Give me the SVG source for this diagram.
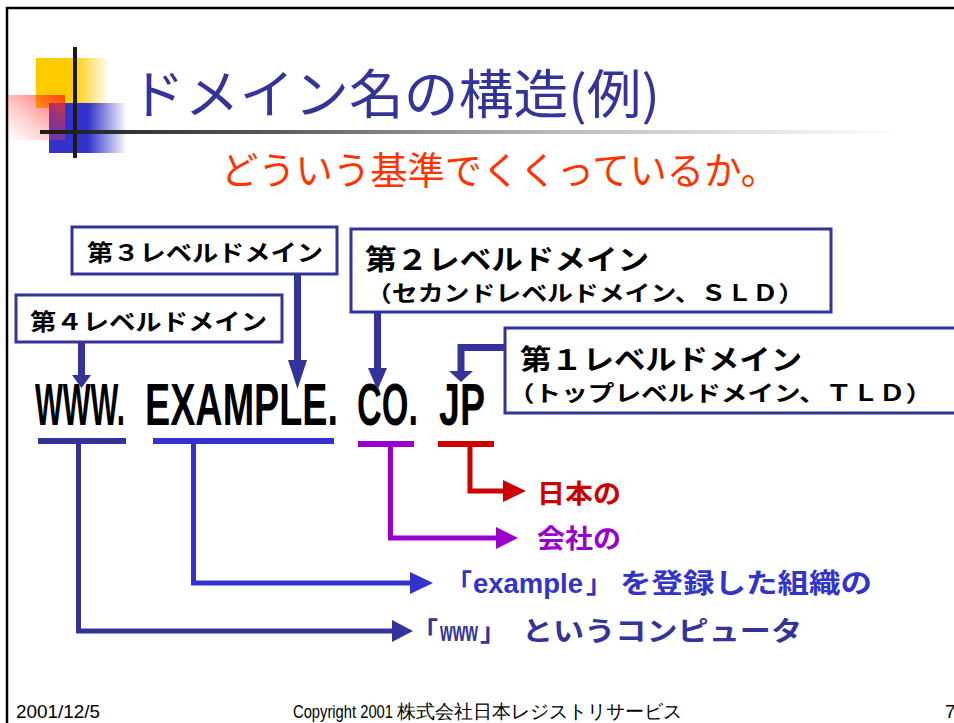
<svg xmlns="http://www.w3.org/2000/svg" width="954" height="723" viewBox="0 0 954 723">
<defs>
<style>
.jp{font-family:"Noto Sans CJK JP","Noto Sans",sans-serif}
.box{fill:#fff;stroke:#333399;stroke-width:3}
.lbl{font-weight:bold;fill:#000}
.dom{font-family:"Liberation Sans",Arial,sans-serif;font-weight:bold;fill:#000;font-size:59px}
.arr{stroke:#333399;stroke-width:7;fill:none}
.head{fill:#333399}
.br{fill:none;stroke-width:5}
.foot{font-family:"Liberation Sans",Arial,sans-serif;font-size:19px;fill:#000}
</style>
<linearGradient id="gY" x1="0" y1="0" x2="1" y2="0"><stop offset="0" stop-color="#FFCC00"/><stop offset="0.5" stop-color="#FFCC00"/><stop offset="1" stop-color="#FFCC00" stop-opacity="0"/></linearGradient>
<linearGradient id="gB" x1="0" y1="0" x2="1" y2="0"><stop offset="0" stop-color="#3333CC"/><stop offset="0.5" stop-color="#3333CC"/><stop offset="1" stop-color="#3333CC" stop-opacity="0"/></linearGradient>
<linearGradient id="gR" x1="1" y1="0" x2="0" y2="1"><stop offset="0" stop-color="#FF3300" stop-opacity="0.9"/><stop offset="0.35" stop-color="#FF3333" stop-opacity="0.45"/><stop offset="1" stop-color="#FF6666" stop-opacity="0"/></linearGradient>
<linearGradient id="gL" x1="40" y1="0" x2="900" y2="0" gradientUnits="userSpaceOnUse"><stop offset="0" stop-color="#1a1a1a"/><stop offset="0.25" stop-color="#555"/><stop offset="0.6" stop-color="#bbb"/><stop offset="1" stop-color="#fff"/></linearGradient>
</defs>
<rect width="954" height="723" fill="#fff"/>
<path d="M7 723 V8 H960" fill="none" stroke="#000" stroke-width="2.5"/>
<g id="decoration">
<rect x="36" y="58" width="74" height="50" fill="url(#gY)"/>
<rect x="49" y="103" width="78" height="50" fill="url(#gB)"/>
<rect x="8" y="95" width="57" height="45" fill="url(#gR)"/>
<rect x="73" y="47" width="4" height="111" fill="#1a1a1a"/>
<rect x="40" y="130" width="860" height="4" fill="url(#gL)"/>
</g>
<g id="title">
<text class="jp" x="130" y="114" font-size="53" fill="#333399" textLength="530" lengthAdjust="spacingAndGlyphs">ドメイン名の構造(例)</text>
<text class="jp" x="221" y="184" font-size="38" fill="#FF3300" textLength="557" lengthAdjust="spacingAndGlyphs">どういう基準でくくっているか。</text>
</g>
<g id="level3">
<rect class="box" x="72" y="227" width="265" height="47"/>
<text class="jp lbl" x="87" y="261" font-size="23" textLength="236" lengthAdjust="spacingAndGlyphs">第３レベルドメイン</text>
</g>
<g id="level4">
<rect class="box" x="16" y="295" width="266" height="47"/>
<text class="jp lbl" x="30" y="330" font-size="23" textLength="237" lengthAdjust="spacingAndGlyphs">第４レベルドメイン</text>
</g>
<g id="level2">
<rect class="box" x="351" y="229" width="480" height="83"/>
<text class="jp lbl" x="365" y="270" font-size="28" textLength="284" lengthAdjust="spacingAndGlyphs">第２レベルドメイン</text>
<text class="jp lbl" x="366" y="301" font-size="22" textLength="438" lengthAdjust="spacingAndGlyphs">（セカンドレベルドメイン、ＳＬＤ）</text>
</g>
<g id="level1">
<rect class="box" x="505" y="328" width="470" height="85"/>
<text class="jp lbl" x="520" y="370" font-size="28" textLength="282" lengthAdjust="spacingAndGlyphs">第１レベルドメイン</text>
<text class="jp lbl" x="508" y="401" font-size="22" textLength="424" lengthAdjust="spacingAndGlyphs">（トップレベルドメイン、ＴＬＤ）</text>
</g>
<g id="domain">
<text class="dom" x="35" y="425" textLength="90" lengthAdjust="spacingAndGlyphs">WWW.</text>
<text class="dom" x="145" y="425" textLength="193" lengthAdjust="spacingAndGlyphs">EXAMPLE.</text>
<text class="dom" x="357" y="425" textLength="61" lengthAdjust="spacingAndGlyphs">CO.</text>
<text class="dom" x="439" y="425" textLength="46" lengthAdjust="spacingAndGlyphs">JP</text>
</g>
<g id="connectors">
<line class="arr" x1="81.5" y1="342" x2="81.5" y2="377"/>
<polygon class="head" points="72,375 91,375 81.5,388"/>
<line class="arr" x1="297.5" y1="274" x2="297.5" y2="362"/>
<polygon class="head" points="288,360 307,360 297.5,389"/>
<line class="arr" x1="377.5" y1="312" x2="377.5" y2="370"/>
<polygon class="head" points="368,368 387,368 377.5,390"/>
<path class="arr" d="M505 347.5 H461 V373"/>
<polygon class="head" points="449,371 473,371 461,382"/>
<rect x="38" y="438" width="88" height="6" fill="#333399"/>
<path class="br" stroke="#333399" d="M78.5 444 V631 H395"/>
<polygon fill="#333399" points="392,620 413,631 392,642"/>
<rect x="153" y="438" width="181" height="6" fill="#3333CC"/>
<path class="br" stroke="#3333CC" d="M193.5 444 V583 H412"/>
<polygon fill="#3333CC" points="410,572 433,583 410,594"/>
<rect x="358" y="441" width="56" height="6" fill="#9900CC"/>
<path class="br" stroke="#9900CC" d="M390.5 447 V538 H498"/>
<polygon fill="#9900CC" points="496,527 518,538 496,549"/>
<rect x="438" y="441" width="56" height="6" fill="#CC0000"/>
<path class="br" stroke="#CC0000" d="M470 447 V491 H505"/>
<polygon fill="#CC0000" points="503,480 526,491 503,502"/>
</g>
<g id="meaning-jp">
<text class="jp" x="537" y="503" font-size="26" font-weight="bold" fill="#CC0000" textLength="84" lengthAdjust="spacingAndGlyphs">日本の</text>
</g>
<g id="meaning-co">
<text class="jp" x="537" y="548" font-size="26" font-weight="bold" fill="#9900CC" textLength="84" lengthAdjust="spacingAndGlyphs">会社の</text>
</g>
<g id="meaning-example" fill="#3333CC" font-weight="bold">
<text class="jp" x="446" y="593" font-size="26">「</text>
<text x="473" y="593" font-size="27" font-family="Liberation Sans,Arial,sans-serif" textLength="110" lengthAdjust="spacingAndGlyphs">example</text>
<text class="jp" x="586" y="593" font-size="26">」</text>
<text class="jp" x="620" y="593" font-size="27" textLength="252" lengthAdjust="spacingAndGlyphs">を登録した組織の</text>
</g>
<g id="meaning-www" fill="#333399" font-weight="bold">
<text class="jp" x="412" y="641" font-size="26">「</text>
<text x="440" y="641" font-size="27" font-family="Liberation Sans,Arial,sans-serif" textLength="38" lengthAdjust="spacingAndGlyphs">www</text>
<text class="jp" x="480" y="641" font-size="26">」</text>
<text class="jp" x="522" y="641" font-size="27" textLength="280" lengthAdjust="spacingAndGlyphs">というコンピュータ</text>
</g>
<g id="footer">
<text class="foot" x="16" y="718" textLength="84" lengthAdjust="spacingAndGlyphs">2001/12/5</text>
<text class="foot" x="293" y="718" textLength="100" lengthAdjust="spacingAndGlyphs">Copyright 2001</text>
<text class="foot jp" x="397" y="718" font-size="19" textLength="285" lengthAdjust="spacingAndGlyphs">株式会社日本レジストリサービス</text>
<text class="foot" x="945" y="718">7</text>
</g>
</svg>
